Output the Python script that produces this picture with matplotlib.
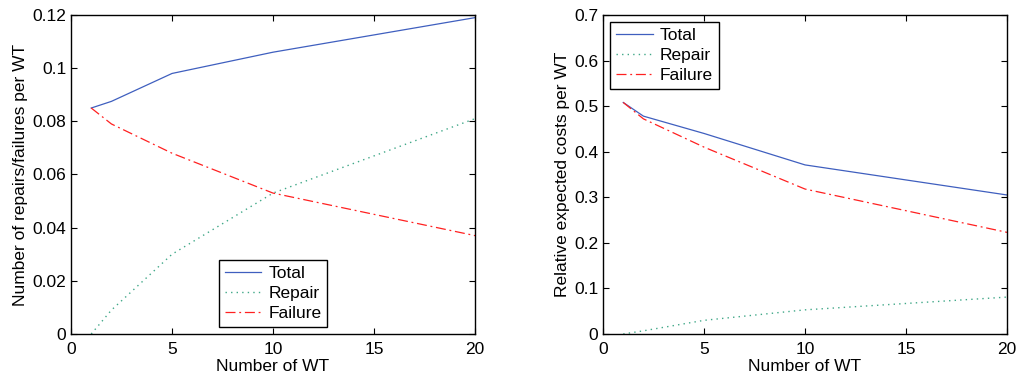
import matplotlib.pyplot as plt

plt.rcParams['font.family'] = ['Liberation Sans', 'DejaVu Sans']
plt.rcParams['font.size'] = 11

n_wt = [1, 2, 5, 10, 20]

# left: number of repairs/failures per WT
num_total = [0.085, 0.0875, 0.098, 0.106, 0.119]
num_repair = [0.0, 0.009, 0.030, 0.053, 0.081]
num_failure = [0.085, 0.079, 0.068, 0.053, 0.037]

# right: relative expected costs per WT
cost_total = [0.508, 0.478, 0.440, 0.371, 0.305]
cost_repair = [0.0, 0.007, 0.030, 0.053, 0.081]
cost_failure = [0.508, 0.472, 0.410, 0.318, 0.223]

c_total = '#3f5fbf'
c_repair = '#40a888'
c_failure = '#ff2020'

fig = plt.figure(figsize=(10.19, 3.78), dpi=100)
ax1 = fig.add_axes([0.0697, 0.1164, 0.3965, 0.844])
ax2 = fig.add_axes([0.5918, 0.1164, 0.3965, 0.844])

def draw(ax, tot, rep, fail, ymax, yticks, ylabel, loc):
    ax.plot(n_wt, tot, color=c_total, lw=0.9, ls='-', label='Total')
    ax.plot(n_wt, rep, color=c_repair, lw=1.0, ls=(0, (1, 3)), label='Repair')
    ax.plot(n_wt, fail, color=c_failure, lw=0.9, ls=(0, (8, 3, 1.5, 3)), label='Failure')
    ax.set_xlim(0, 20)
    ax.set_ylim(0, ymax)
    ax.set_xticks([0, 5, 10, 15, 20])
    ax.set_yticks(yticks)
    ax.set_yticklabels([('%g' % v) for v in yticks])
    ax.tick_params(direction='in', top=True, right=True, length=4, labelsize=12.5)
    ax.tick_params(axis='x', pad=6)
    ax.set_xlabel('Number of WT', fontsize=12.5, labelpad=1)
    ax.set_ylabel(ylabel, fontsize=12.5, labelpad=3)
    for s in ax.spines.values():
        s.set_linewidth(1.0)
    leg = ax.legend(loc=loc, fontsize=12.5, fancybox=False, framealpha=1,
                    edgecolor='black', borderpad=0.35, labelspacing=0.28,
                    handlelength=2.1, handletextpad=0.4, borderaxespad=0.4)
    leg.get_frame().set_linewidth(1.0)

draw(ax1, num_total, num_repair, num_failure, 0.12,
     [0, 0.02, 0.04, 0.06, 0.08, 0.1, 0.12],
     'Number of repairs/failures per WT', 'lower center')
draw(ax2, cost_total, cost_repair, cost_failure, 0.7,
     [0, 0.1, 0.2, 0.3, 0.4, 0.5, 0.6, 0.7],
     'Relative expected costs per WT', 'upper left')

fig.savefig('out.png', dpi=100)
